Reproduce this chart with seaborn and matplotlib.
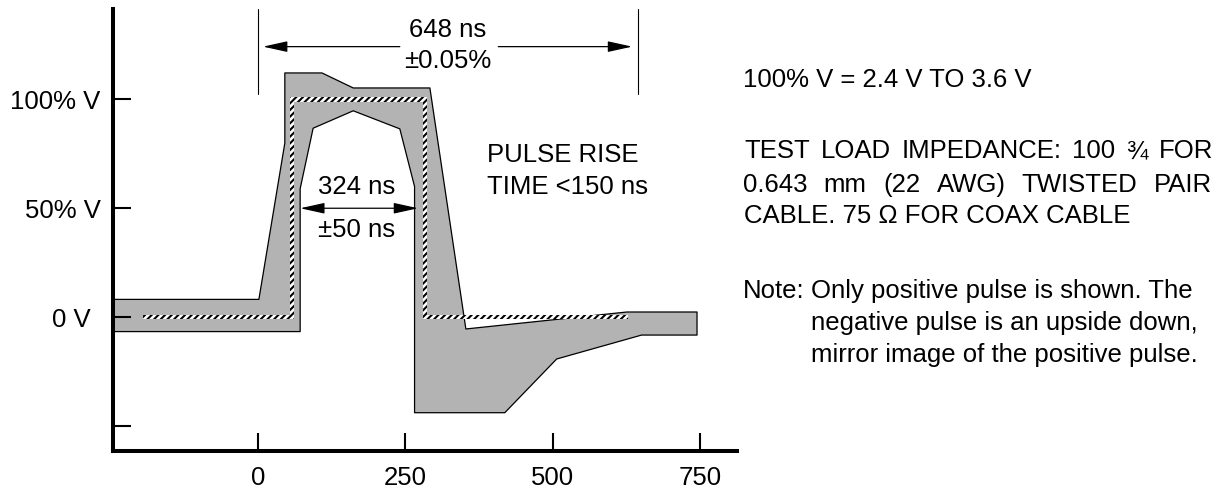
"""Pulse template (positive pulse mask) redrawn with seaborn/matplotlib."""

import matplotlib

matplotlib.use("Agg")

import matplotlib.pyplot as plt
import matplotlib.transforms as mtransforms
import seaborn as sns


# axis ticks
X_TICKS = [0, 250, 500, 750]
Y_TICKS = [-0.5, 0.0, 0.5, 1.0]
Y_TICK_LABELS = ["", "0 V", "50% V", "100% V"]

# upper limit of the mask (time in ns, amplitude as fraction of 100% V)
MAX_T = [-246, 2, 46, 46, 109, 162, 292, 353, 626, 745]
MAX_V = [0.081, 0.081, 0.80, 1.122, 1.122, 1.053, 1.053, -0.055, 0.023, 0.023]

# lower limit of the mask
MIN_T = [-246, 72, 72, 94, 162, 241, 266, 266, 419, 507, 651, 745]
MIN_V = [-0.067, -0.067, 0.59, 0.868, 0.948, 0.865, 0.60, -0.44, -0.44, -0.193, -0.083, -0.083]

# nominal pulse (hatched)
NOM_T = [-194, 58, 58, 284, 284, 628]
NOM_V = [0.0, 0.0, 1.0, 1.0, 0.0, 0.0]

# dimension markers
WIDTH_ARROW_T = [72, 272]      # 324 ns +-50 ns
WIDTH_ARROW_V = 0.5
PERIOD_MARK_T = [1, 645]       # 648 ns +-0.05%
PERIOD_ARROW_V = 1.243

W, H = 1223, 494
FS = 18.5
GRAY = "#b3b3b3"


def justify(fig, words, x0, x1, y, **kw):
    """Place words on one line so that they span x0..x1 (pixels)."""
    renderer = fig.canvas.get_renderer()
    texts = [fig.text(0, 1 - y / H, w, va="baseline", ha="left", **kw) for w in words]
    widths = [t.get_window_extent(renderer).width for t in texts]
    gap = (x1 - x0 - sum(widths)) / (len(words) - 1)
    x = x0
    for t, w in zip(texts, widths):
        t.set_x(x / W)
        x += w + gap


def main() -> None:
    sns.set_theme(style="white")
    plt.rcParams["font.family"] = ["Liberation Sans", "DejaVu Sans"]
    plt.rcParams["text.color"] = "black"
    plt.rcParams["hatch.linewidth"] = 1.5

    fig = plt.figure(figsize=(W / 100, H / 100), dpi=100)
    ax = fig.add_axes([113 / W, (H - 451) / H, (737 - 113) / W, (451 - 9) / H])
    ax.set_xlim(-245.4, 812.8)
    ax.set_ylim(-0.616, 1.416)

    # gray mask region
    mask_t = MAX_T + MIN_T[::-1]
    mask_v = MAX_V + MIN_V[::-1]
    ax.fill(mask_t, mask_v, facecolor=GRAY, edgecolor="none", zorder=1)
    sns.lineplot(x=mask_t + [mask_t[0]], y=mask_v + [mask_v[0]], sort=False,
                 estimator=None, color="black", linewidth=0.9, ax=ax, zorder=1.5)

    # hatched nominal pulse as a thin band around the nominal path
    hw_t, hw_v = 3.4, 0.0095
    up_t = [NOM_T[0], NOM_T[1] - hw_t, NOM_T[2] - hw_t, NOM_T[3] + hw_t, NOM_T[4] + hw_t, NOM_T[5]]
    lo_t = [NOM_T[0], NOM_T[1] + hw_t, NOM_T[2] + hw_t, NOM_T[3] - hw_t, NOM_T[4] - hw_t, NOM_T[5]]
    up_v = [v + hw_v for v in NOM_V]
    lo_v = [v - hw_v for v in NOM_V]
    ax.fill(up_t + lo_t[::-1], up_v + lo_v[::-1], facecolor="white", edgecolor="black",
            hatch="/////", linewidth=0, zorder=2)

    arrow = dict(arrowstyle="-|>,head_length=1.5,head_width=0.33", color="black",
                 lw=0.9, shrinkA=0, shrinkB=0, mutation_scale=10)
    arrow2 = dict(arrow, arrowstyle="<|-|>,head_length=1.5,head_width=0.33")

    # 324 ns pulse width
    ax.annotate("", xy=(WIDTH_ARROW_T[1], WIDTH_ARROW_V), xytext=(WIDTH_ARROW_T[0], WIDTH_ARROW_V),
                arrowprops=arrow2, zorder=3)
    mid = sum(WIDTH_ARROW_T) / 2 - 5
    ax.text(mid, 0.566, "324 ns", ha="center", va="baseline", fontsize=FS)
    ax.text(mid, 0.367, "±50 ns", ha="center", va="baseline", fontsize=FS)

    # 648 ns period
    for t in PERIOD_MARK_T:
        ax.plot([t, t], [1.025, 1.416], color="black", lw=0.8, clip_on=False)
    ax.annotate("", xy=(PERIOD_MARK_T[0] + 8, PERIOD_ARROW_V), xytext=(241, PERIOD_ARROW_V),
                arrowprops=arrow)
    ax.annotate("", xy=(PERIOD_MARK_T[1] - 10, PERIOD_ARROW_V), xytext=(408, PERIOD_ARROW_V),
                arrowprops=arrow)
    ax.text(322, 1.289, "648 ns", ha="center", va="baseline", fontsize=FS)
    ax.text(322, 1.143, "±0.05%", ha="center", va="baseline", fontsize=FS)

    ax.text(389, 0.711, "PULSE RISE", ha="left", va="baseline", fontsize=FS)
    ax.text(389, 0.566, "TIME <150 ns", ha="left", va="baseline", fontsize=FS)

    # axes styling
    for side in ("top", "right"):
        ax.spines[side].set_visible(False)
    for side in ("left", "bottom"):
        ax.spines[side].set_linewidth(2.9)
        ax.spines[side].set_color("black")
        ax.spines[side].set_capstyle("projecting")
    ax.set_axisbelow(False)
    ax.set_xticks(X_TICKS)
    ax.set_xticklabels([str(t) for t in X_TICKS])
    ax.set_yticks(Y_TICKS)
    ax.set_yticklabels(Y_TICK_LABELS)
    ax.tick_params(axis="both", direction="in", length=13, width=1.5, color="black",
                   labelsize=FS, labelcolor="black")
    ax.tick_params(axis="x", pad=11)
    ax.tick_params(axis="y", pad=9)
    ax.tick_params(left=True, bottom=True)
    zero_label = ax.get_yticklabels()[1]
    zero_label.set_transform(zero_label.get_transform()
                             + mtransforms.ScaledTranslation(-0.10, 0, fig.dpi_scale_trans))

    # notes on the right
    fig.text(743 / W, 1 - 86.7 / H, "100% V = 2.4 V TO 3.6 V", ha="left", va="baseline", fontsize=FS)
    justify(fig, "TEST LOAD IMPEDANCE: 100 ¾ FOR".split(), 744, 1213, 158.3, fontsize=FS)
    justify(fig, "0.643 mm (22 AWG) TWISTED PAIR".split(), 743, 1212, 191.7, fontsize=FS)
    fig.text(744 / W, 1 - 223.3 / H, "CABLE. 75 Ω FOR COAX CABLE", ha="left", va="baseline", fontsize=FS)
    fig.text(743 / W, 1 - 298.3 / H, "Note:", ha="left", va="baseline", fontsize=FS)
    fig.text(811 / W, 1 - 298.3 / H, "Only positive pulse is shown. The", ha="left", va="baseline", fontsize=FS)
    fig.text(811 / W, 1 - 330 / H, "negative pulse is an upside down,", ha="left", va="baseline", fontsize=FS)
    fig.text(811 / W, 1 - 361.7 / H, "mirror image of the positive pulse.", ha="left", va="baseline", fontsize=FS)

    fig.savefig("out.png", dpi=100)
    plt.close(fig)


if __name__ == "__main__":
    main()
